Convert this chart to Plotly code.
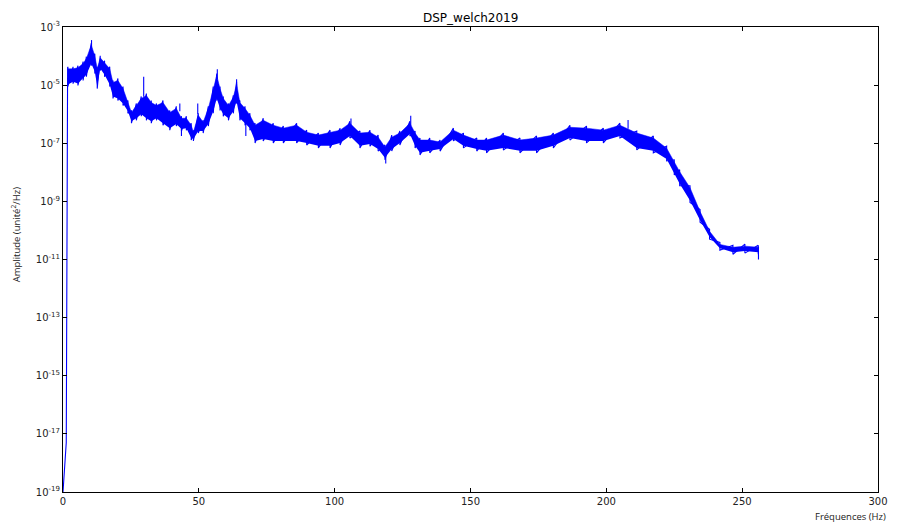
import plotly.graph_objects as go

# ---- data (log10 of amplitude, unit^2/Hz) ----
rise_freq = [0.0, 1.2, 1.7]
rise_log = [-19.0, -17.3, -4.4]

freq_hz = [1.8, 3.7, 5.5, 7.4, 8.6, 10.4, 11.7, 12.6, 13.7, 15.3, 17.2, 18.4, 20.2, 22.1,
           23.9, 25.2, 27.0, 28.8, 30.7, 32.5, 34.4, 36.8, 39.3, 41.7, 43.6, 45.4, 47.2,
           48.0, 49.8, 51.6, 53.5, 55.3, 56.6, 57.8, 59.0, 60.9, 62.7, 63.9, 65.1, 67.0,
           68.8, 70.7, 73.7, 77.4, 81.1, 86.0, 89.7, 94.0, 98.3, 102.0, 105.6, 109.3,
           113.0, 116.0, 118.5, 121.0, 124.0, 127.7, 129.6, 131.4, 135.0, 138.8, 143.7,
           147.4, 152.3, 155.9, 162.1, 168.2, 174.3, 180.5, 186.6, 192.7, 198.9, 205.0,
           211.2, 217.3, 222.2, 225.0, 227.0, 230.8, 234.5, 238.0, 241.8, 246.6, 251.0,
           255.9]
hi_log = [-4.37, -4.37, -4.33, -4.19, -4.02, -3.55, -3.92, -4.37, -3.99, -4.16, -4.37,
          -4.84, -4.77, -5.05, -5.53, -5.87, -5.63, -5.39, -5.29, -5.53, -5.63, -5.53,
          -5.87, -5.73, -6.07, -6.07, -6.31, -6.55, -5.97, -6.21, -5.73, -5.05, -4.60,
          -5.05, -5.39, -5.63, -5.35, -4.88, -5.53, -5.73, -5.97, -6.31, -6.14, -6.31,
          -6.41, -6.31, -6.55, -6.65, -6.55, -6.48, -6.24, -6.58, -6.55, -6.72, -7.06,
          -6.72, -6.58, -6.24, -6.58, -6.82, -6.82, -6.89, -6.48, -6.65, -6.82, -6.82,
          -6.65, -6.82, -6.75, -6.65, -6.38, -6.41, -6.48, -6.31, -6.58, -6.75, -7.10,
          -7.57, -7.91, -8.46, -9.28, -9.96, -10.41, -10.51, -10.47, -10.51]
lo_log = [-5.05, -4.95, -5.01, -4.84, -4.71, -4.33, -4.60, -5.12, -4.50, -4.71, -5.05,
          -5.46, -5.53, -5.70, -5.97, -6.31, -6.21, -6.07, -6.21, -6.31, -6.21, -6.38,
          -6.55, -6.41, -6.58, -6.55, -6.89, -6.92, -6.65, -6.65, -6.41, -5.97, -5.53,
          -5.87, -6.07, -6.21, -5.97, -5.63, -6.21, -6.38, -6.55, -6.99, -6.92, -6.99,
          -6.99, -6.99, -7.06, -7.16, -7.16, -7.06, -6.82, -7.16, -7.10, -7.27, -7.57,
          -7.27, -7.06, -6.75, -7.16, -7.40, -7.33, -7.27, -6.92, -7.16, -7.27, -7.33,
          -7.23, -7.33, -7.33, -7.16, -6.89, -6.99, -6.99, -6.82, -7.23, -7.33, -7.61,
          -8.09, -8.46, -9.04, -9.72, -10.30, -10.68, -10.82, -10.78, -10.82]

spike_freq = [10.5, 29.7, 43.0, 43.6, 49.6, 56.8, 63.9, 67.3, 118.8, 128.0, 106.0, 208.0]
spike_base = [-3.8, -5.4, -5.9, -6.4, -6.0, -4.8, -5.1, -6.3, -7.3, -6.4, -6.4, -6.5]
spike_tip = [-3.45, -4.71, -5.63, -6.75, -5.63, -4.45, -4.8, -6.75, -7.7, -6.05, -6.15, -6.2]

end_freq = [256.0, 256.0]
end_log = [-10.55, -11.0]

x_ticks = [0, 50, 100, 150, 200, 250, 300]
y_tick_exp = [-19, -17, -15, -13, -11, -9, -7, -5, -3]
y_tick_text = ["10<sup>%d</sup>" % e for e in y_tick_exp]

BLUE = "#0000ff"
INSET = 0.07  # visual inset of the solid core inside the noise envelope (decades)


def amp(vals):
    return [10 ** v for v in vals]


fig = go.Figure()

# solid core of the noise band
fig.add_trace(go.Scatter(x=freq_hz, y=amp([v + INSET for v in lo_log]), mode="lines",
                         line=dict(width=0, color=BLUE), showlegend=False, hoverinfo="skip"))
fig.add_trace(go.Scatter(x=freq_hz, y=amp([v - INSET for v in hi_log]), mode="lines",
                         fill="tonexty", fillcolor=BLUE, line=dict(width=0.5, color=BLUE),
                         showlegend=False, hoverinfo="skip"))

# jagged line: initial rise, then strokes between envelope extremes
zx, zy = list(rise_freq), list(rise_log)
for f, h, l in zip(freq_hz, hi_log, lo_log):
    zx += [f, f]
    zy += [h, l]
zx += end_freq
zy += end_log
fig.add_trace(go.Scatter(x=zx, y=amp(zy), mode="lines",
                         line=dict(width=1.1, color=BLUE), showlegend=False))

# narrow spikes
sx, sy = [], []
for f, b, t in zip(spike_freq, spike_base, spike_tip):
    sx += [f, f, None]
    sy += [10 ** b, 10 ** t, None]
fig.add_trace(go.Scatter(x=sx, y=sy, mode="lines",
                         line=dict(width=1.1, color=BLUE), showlegend=False))

axis_common = dict(showline=True, linecolor="black", linewidth=1, mirror="allticks",
                   ticks="inside", ticklen=4, tickcolor="black", showgrid=False,
                   zeroline=False, tickfont=dict(family="DejaVu Sans", size=10, color="#222"))

fig.update_xaxes(range=[0, 300], tickvals=x_ticks, ticktext=[str(v) for v in x_ticks],
                 **axis_common)
fig.update_yaxes(type="log", range=[-19, -3], tickvals=[10 ** e for e in y_tick_exp],
                 ticktext=y_tick_text, **axis_common)

# page body has an 8px margin, so the figure is offset by 8px in the window
fig.update_layout(
    width=892, height=516,
    margin=dict(l=55, r=22, t=15, b=32),
    paper_bgcolor="white", plot_bgcolor="white",
    annotations=[
        dict(text="DSP_welch2019", xref="paper", yref="paper", x=0.5, y=1.019,
             xanchor="center", yanchor="middle", showarrow=False,
             font=dict(family="DejaVu Sans", size=12, color="black")),
        dict(text="Fréquences (Hz)", xref="paper", yref="paper", x=1.012, y=-0.053,
             xanchor="right", yanchor="middle", showarrow=False,
             font=dict(family="Open Sans", size=9.5, color="#222")),
        dict(text="Amplitude (unité<sup>2</sup>/Hz)", xref="paper", yref="paper",
             x=-0.0577, y=0.554, xanchor="center", yanchor="middle", textangle=-90,
             showarrow=False, font=dict(family="Open Sans", size=9.5, color="#222")),
    ],
)

fig.write_html("out.html")
